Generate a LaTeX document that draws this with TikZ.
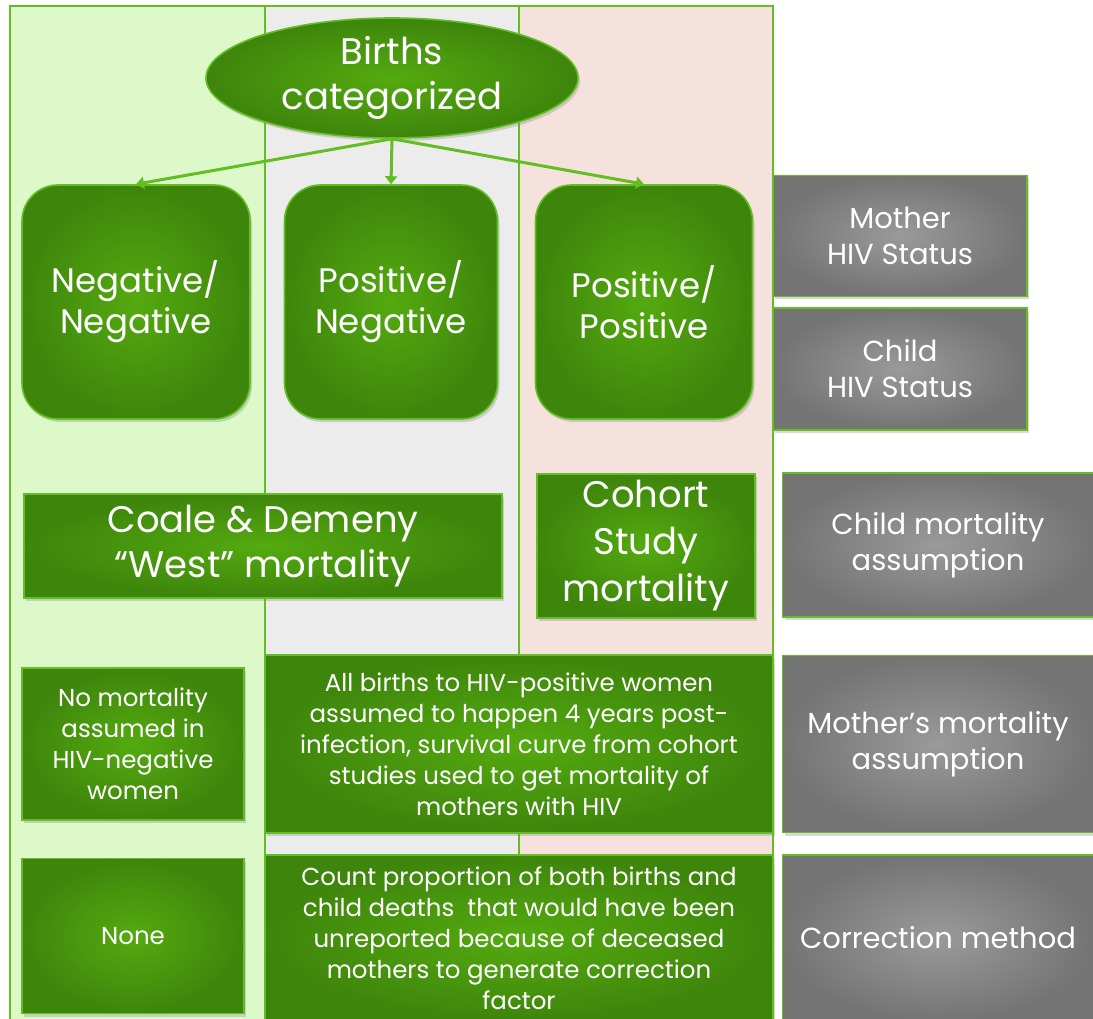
\documentclass[tikz,border=0pt]{standalone}
\usepackage{fontspec}
\setmainfont{Poppins}
\usetikzlibrary{shapes.geometric,shadows,arrows.meta}

\definecolor{leafdark}{HTML}{3E850C}
\definecolor{leaflight}{HTML}{54AA0F}
\definecolor{leafline}{HTML}{62BE22}
\definecolor{stonedark}{HTML}{747474}
\definecolor{stonelight}{HTML}{9A9A9A}
\definecolor{colneg}{HTML}{DDF8C9}
\definecolor{colmid}{HTML}{ECECEC}
\definecolor{colpos}{HTML}{F5E2DC}

\tikzset{
  lane/.style={draw=leafline, line width=2pt},
  greenbox/.style={draw=leafline, line width=1.6pt, inner color=leaflight,
    outer color=leafdark, text=white, align=center, inner sep=0pt,
    drop shadow={opacity=0.3, shadow xshift=2pt, shadow yshift=-3pt}},
  greybox/.style={greenbox, inner color=stonelight, outer color=stonedark},
  big/.style={font=\fontsize{37}{45}\selectfont},
  pair/.style={font=\fontsize{34}{41}\selectfont},
  mid/.style={font=\fontsize{29}{36}\selectfont},
  small/.style={font=\fontsize{24.5}{31}\selectfont},
  split/.style={draw=leafline, line width=3pt, -{Triangle[length=8pt,width=12pt]}}
}

\begin{document}
\begin{tikzpicture}[x=1pt, y=-1pt]
  \useasboundingbox (0,0) rectangle (1093,1019);

  % the three lanes behind the boxes
  \fill[white] (0,0) rectangle (1093,1019);
  \filldraw[lane, fill=colneg] (10,6) rectangle (265,1030);
  \filldraw[lane, fill=colmid] (265,6) rectangle (519,1030);
  \filldraw[lane, fill=colpos] (519,6) rectangle (773,1030);

  % top of the tree
  \node (births) [greenbox, ellipse, big, minimum width=372pt, minimum height=120pt]
    at (392,78) {Births\\categorized};

  % status pairs
  \node (negneg) [greenbox, pair, rounded corners=36pt, minimum width=228pt, minimum height=234pt]
    at (136,302) {Negative/\\Negative};
  \node (posneg) [greenbox, pair, rounded corners=36pt, minimum width=213pt, minimum height=234pt]
    at (391,302) {Positive/\\Negative};
  \node (pospos) [greenbox, pair, rounded corners=36pt, minimum width=217pt, minimum height=234pt]
    at (644,302) {Positive/\\Positive};

  % child mortality
  \node (west) [greenbox, big, minimum width=478pt, minimum height=104pt]
    at (263,546) {Coale \& Demeny\\``West'' mortality};
  \node (cohort) [greenbox, big, font=\fontsize{37}{47}\selectfont, minimum width=218pt, minimum height=144pt]
    at (646,546) {Cohort\\Study\\mortality};

  % mother mortality
  \node (nomort) [greenbox, small, minimum width=222pt, minimum height=152pt]
    at (133,744) {No mortality\\assumed in\\HIV-negative\\women};
  \node (curve) [greenbox, small, minimum width=508pt, minimum height=178pt]
    at (519,744) {All births to HIV-positive women\\assumed to happen 4 years post-\\infection, survival curve from cohort\\studies used to get mortality of\\mothers with HIV};

  % correction
  \node (none) [greenbox, small, minimum width=222pt, minimum height=155pt]
    at (133,936) {None};
  \node (count) [greenbox, small, minimum width=508pt, minimum height=166pt]
    at (519,938) {Count proportion of both births and\\child deaths\ \ that would have been\\unreported because of deceased\\mothers to generate correction\\factor};

  % row headings on the right
  \node (mstatus) [greybox, mid, minimum width=254pt, minimum height=121pt]
    at (900,236) {Mother\\HIV Status};
  \node (cstatus) [greybox, mid, minimum width=254pt, minimum height=122pt]
    at (900,369) {Child\\HIV Status};
  \node (cmort) [greybox, mid, minimum width=311pt, minimum height=144pt]
    at (938,545) {Child mortality\\assumption};
  \node (mmort) [greybox, mid, minimum width=311pt, minimum height=177pt]
    at (938,744) {Mother’s mortality\\assumption};
  \node (method) [greybox, mid, minimum width=311pt, minimum height=166pt]
    at (938,938) {Correction method};

  % arrows out of the top node
  \draw[split] (births.south) -- (negneg.north);
  \draw[split] (births.south) -- (posneg.north);
  \draw[split] (births.south) -- (pospos.north);
\end{tikzpicture}
\end{document}
